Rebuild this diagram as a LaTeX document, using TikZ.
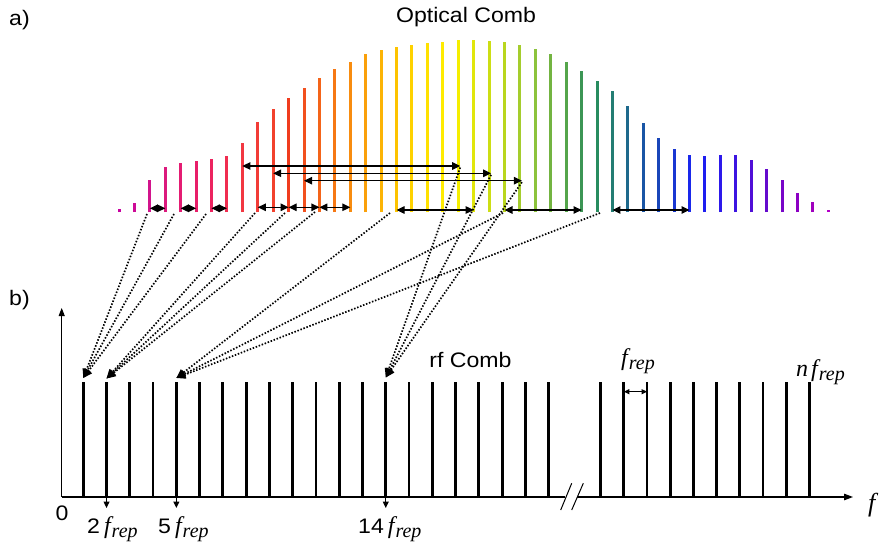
\documentclass[tikz,border=0pt]{standalone}
\usepackage{fontspec}
\setmainfont{Liberation Sans}
\newfontfamily\tmsfont{Liberation Serif}
\usetikzlibrary{arrows.meta,calc}
\newcommand{\frepsym}{{\tmsfont\itshape\fontsize{24}{24}\selectfont f\kern1pt\raisebox{-4pt}{\fontsize{20}{20}\selectfont rep}}}
\newcommand{\widetxt}[1]{\scalebox{1.1}[1]{#1}}
\begin{document}
\begin{tikzpicture}[x=1pt,y=-1pt,
  optline/.style={line width=3pt},
  rfline/.style={line width=2.8pt,black},
  dimarrow/.style={{Triangle[length=8pt,width=7.5pt]}-{Triangle[length=8pt,width=7.5pt]},line width=1.1pt,black},
  smallarrow/.style={{Triangle[length=5.5pt,width=5pt]}-{Triangle[length=5.5pt,width=5pt]},line width=1pt,black},
  dotarrow/.style={-{Triangle[length=9pt,width=8pt]},line width=1.7pt,dash pattern=on 1.5pt off 1.7pt,black},
  tickarrow/.style={-{Triangle[length=6.5pt,width=6pt]},line width=1pt,black},
  axisline/.style={line width=1.2pt,black},
  lbl/.style={font=\fontsize{21}{25}\selectfont,inner sep=0pt},
]
\useasboundingbox (0,0) rectangle (885,548);
\fill[white] (0,0) rectangle (885,548);

% ---------- optical comb ----------
\foreach \i/\t/\r/\g/\b in {
 0/209/200/0/160, 1/203.3/205/10/150, 2/180/210/20/140, 3/166.7/220/25/125,
 4/162.7/228/28/115, 5/161/232/30/105, 6/159.3/236/35/95, 7/156/240/45/80,
 8/142.7/242/55/65, 9/121.7/242/60/55, 10/109/242/65/45, 11/97.7/240/60/30,
 12/87.7/242/80/30, 13/78.3/244/100/25, 14/69.3/246/120/20, 15/61.7/248/140/15,
 16/54.3/250/160/10, 17/50/252/180/5, 18/47/253/195/0, 19/44.7/254/210/0,
 20/43.3/255/225/0, 21/41.7/255/235/0, 22/40/245/238/0, 23/40.3/225/230/10,
 24/41/205/222/20, 25/42.3/185/214/30, 26/45/165/205/45, 27/49/140/195/60,
 28/54.3/115/180/65, 29/62.3/85/165/75, 30/70.7/60/150/85, 31/80.7/40/140/95,
 32/91/35/125/115, 33/106/30/105/140, 34/123.3/25/85/165, 35/137.7/25/70/185,
 36/149/25/55/210, 37/155/25/40/235, 38/156/30/30/240, 39/155/45/25/235,
 40/155/60/20/225, 41/160/80/15/215, 42/169.3/100/10/205, 43/180/120/5/200,
 44/193.3/140/0/195, 45/202.3/160/0/190, 46/210/180/0/200}{
  \definecolor{cc}{RGB}{\r,\g,\b}
  \coordinate (ob\i) at ({119+15.42*\i},212);
  \coordinate (ot\i) at ({119+15.42*\i},\t);
  \draw[optline,cc] (ob\i) -- (ot\i);
}

% levels for dimension arrows
\coordinate (lvA) at (0,208.3);
\coordinate (lvB) at (0,207.3);
\coordinate (lvC) at (0,210);
\coordinate (lvD) at (0,166);
\coordinate (lvE) at (0,173.3);
\coordinate (lvF) at (0,180.7);

% f_rep spacings
\draw[dimarrow] (ob2 |- lvA) -- (ob3 |- lvA);
\draw[dimarrow] (ob4 |- lvA) -- (ob5 |- lvA);
\draw[dimarrow] (ob6 |- lvA) -- (ob7 |- lvA);
% 2 f_rep spacings
\draw[dimarrow] (ob9 |- lvB) -- (ob11 |- lvB);
\draw[dimarrow] (ob11 |- lvB) -- (ob13 |- lvB);
\draw[dimarrow] (ob13 |- lvB) -- (ob15 |- lvB);
% 5 f_rep spacings
\draw[dimarrow] (ob18 |- lvC) -- (ob23 |- lvC);
\draw[dimarrow] (ob25 |- lvC) -- (ob30 |- lvC);
\draw[dimarrow] (ob32 |- lvC) -- (ob37 |- lvC);
% 14 f_rep spacings
\coordinate (d1) at ($(ob22 |- lvD)+(2,0)$);
\coordinate (d2) at ($(ob24 |- lvE)+(2,0)$);
\coordinate (d3) at ($(ob26 |- lvF)+(2,0)$);
\draw[dimarrow] (ob8 |- lvD) -- (d1);
\draw[dimarrow] (ob10 |- lvE) -- (d2);
\draw[dimarrow] (ob12 |- lvF) -- (d3);

\node[lbl,anchor=base] (title) at (466,22.5) {\widetxt{Optical Comb}};
\node[lbl,anchor=base west] (la) at (9,26) {\widetxt{a)}};
\node[lbl,anchor=base west] (lb) at (9,305) {\widetxt{b)}};

% ---------- rf comb ----------
\foreach \k in {1,...,21}{
  \coordinate (rb\k) at ({60+23.27*\k},497);
  \coordinate (rt\k) at ({60+23.27*\k},381.5);
  \draw[rfline] (rb\k) -- (rt\k);
}
\foreach \j in {0,...,9}{
  \coordinate (sb\j) at ({600.7+23.18*\j},497);
  \coordinate (st\j) at ({600.7+23.18*\j},381.5);
  \draw[rfline] (sb\j) -- (st\j);
}

% axes
\coordinate (O) at (61.7,497);
\coordinate (ytop) at (61.7,308);
\coordinate (brkL) at (565,497);
\coordinate (brkR) at (577,497);
\coordinate (xend) at (853,497);
\draw[line width=1pt,-{Triangle[length=8pt,width=6pt]}] (O) -- (ytop);
\draw[axisline] (O) -- (brkL);
\draw[axisline,-{Triangle[length=9pt,width=6.5pt]}] (brkR) -- (xend);
\coordinate (s1a) at (560.7,510); \coordinate (s1b) at (571.7,483.3);
\coordinate (s2a) at (571.7,510); \coordinate (s2b) at (583.3,483.3);
\draw[line width=1pt] (s1a) -- (s1b);
\draw[line width=1pt] (s2a) -- (s2b);

% tick arrows
\draw[tickarrow] (rb2) -- ++(0,11);
\draw[tickarrow] (rb5) -- ++(0,11);
\draw[tickarrow] (rb14) -- ++(0,11);

% f_rep arrow on rf comb
\coordinate (lvG) at (0,391.7);
\draw[smallarrow] (st1 |- lvG) -- (st2 |- lvG);

% ---------- dotted mapping arrows ----------
\coordinate (tip1) at ($(rt1)+(0,-3.5)$);
\coordinate (tip2) at ($(rt2)+(0,-3)$);
\coordinate (tip5) at ($(rt5)+(0,-3.5)$);
\coordinate (tip14) at ($(rt14)+(0,-4)$);
\coordinate (p1) at (147,214);
\coordinate (p2) at (174,214);
\coordinate (p3) at (206,214);
\coordinate (q1) at (255,213);
\coordinate (q2) at (285,213);
\coordinate (q3) at (315,212);
\coordinate (u1) at (390,213);
\coordinate (u2) at (503,213);
\coordinate (u3) at (600,213);
\coordinate (v1) at ($(d1)+(0,1.5)$);
\coordinate (v2) at ($(d2)+(0,1.5)$);
\coordinate (v3) at ($(d3)+(0,1.5)$);
\foreach \s in {p1,p2,p3}{\draw[dotarrow] (\s) -- (tip1);}
\foreach \s in {q1,q2,q3}{\draw[dotarrow] (\s) -- (tip2);}
\foreach \s in {u1,u2,u3}{\draw[dotarrow] (\s) -- (tip5);}
\foreach \s in {v1,v2,v3}{\draw[dotarrow] (\s) -- (tip14);}

% ---------- labels ----------
\node[lbl,anchor=base] (rfc) at (470.5,367.3) {\widetxt{rf Comb}};
\node[lbl,anchor=base] (zero) at (62,520) {\widetxt{0}};
\node[lbl,anchor=base west] (l2) at (87,533) {\widetxt{2}\kern4pt\frepsym};
\node[lbl,anchor=base west] (l5) at (158,533) {\widetxt{5}\kern4pt\frepsym};
\node[lbl,anchor=base west] (l14) at (358,533) {\widetxt{14}\kern4pt\frepsym};
\node[lbl,anchor=base west] (lf) at (621,365) {\frepsym};
\node[lbl,anchor=base west] (ln) at (796,376) {{\tmsfont\itshape\fontsize{24}{24}\selectfont n}\kern3pt\frepsym};
\node[lbl,anchor=base west] (lfa) at (868,511) {{\tmsfont\itshape\fontsize{26}{26}\selectfont f}};
\end{tikzpicture}
\end{document}
